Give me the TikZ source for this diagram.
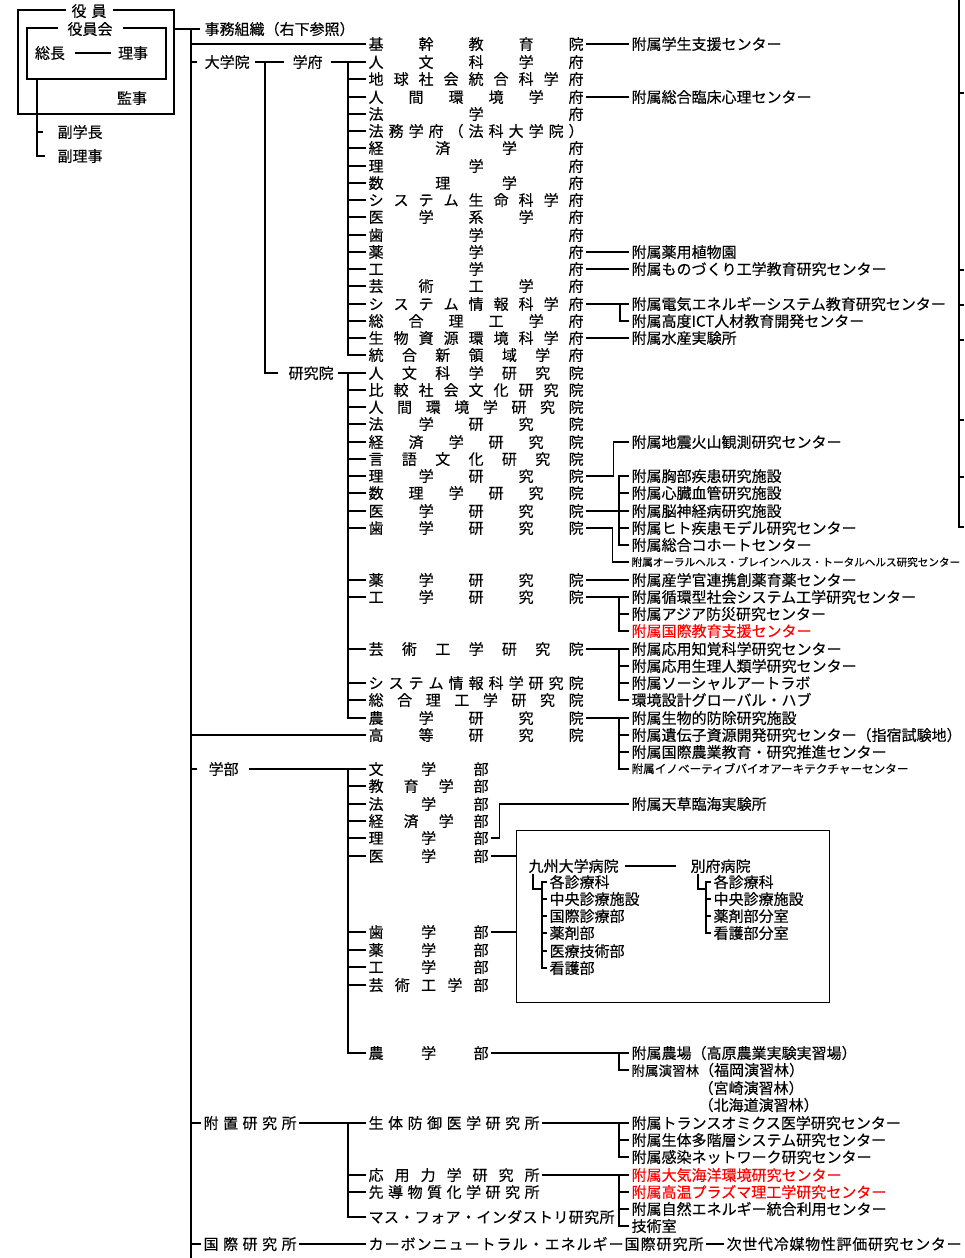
\documentclass[tikz,border=0pt]{standalone}
\usepackage{fontspec}
\setmainfont{Noto Sans CJK JP}[FakeBold=0.3]
\definecolor{orgred}{HTML}{FF0000}
% spread the characters of a label evenly over a given width
\makeatletter
\newcommand\spreadtext[2]{\makebox[#1][s]{\expandafter\spr@ad#2\spr@end}}
\def\spr@end{\spr@end}
\def\spr@ad#1#2\spr@end{#1\ifx\spr@end#2\spr@end\else\hfill\spr@ad#2\spr@end\fi}
\makeatother

\begin{document}
\begin{tikzpicture}[x=1pt, y=-1pt, line width=1.2pt,
  every node/.style={font=\fontsize{15}{17}\selectfont, inner sep=0pt, text height=12.5pt, text depth=1pt},
  row/.style={anchor=west, inner xsep=2pt},
  small/.style={font=\fontsize{10.6}{12.5}\selectfont, text height=9pt, text depth=0.8pt},
  newunit/.style={text=orgred},
  boxlabel/.style={fill=white, inner xsep=6pt}]
\useasboundingbox (0,0) rectangle (964,1258);

% board
\draw (18,10) rectangle (174,114);
\node[boxlabel] (yakuin) at (89,11) {役\hspace{5pt}員};
\draw (27,28) rectangle (166,79);
\node[boxlabel, inner xsep=10pt] (yakuinkai) at (90,29) {役員会};
\node (socho) at (50,53) {総長};
\node (riji) at (133,53) {理事};
\draw ([xshift=9pt]socho.east) -- ([xshift=-6pt]riji.west);
\node (kanji) at (132,98) {監事};
\coordinate (boardbot) at (37,79);
\node[anchor=west] (fukugakucho) at (57,132) {副学長};
\node[anchor=west] (fukuriji) at (57,156) {副理事};
\draw (boardbot) |- ([xshift=-12pt]fukuriji.west);
\draw (boardbot |- fukugakucho.west) -- ++(6,0);

% main spine
\coordinate (boardR) at (174,29);
\coordinate (spine) at (191,29);
\draw (boardR) -- (spine) -- (191,1258);
\node[anchor=west] (jimu) at (204,29) {事務組織（右下参照）};
\draw (spine) -- ([xshift=-4pt]jimu.west);

% graduate schools
\node[row] (kikan) at (366,44) {\spreadtext{215pt}{基幹教育院}};
\draw (spine |- kikan.west) -- (kikan.west);
\node[anchor=west] (daigakuin) at (204,62) {大学院};
\draw (spine |- daigakuin.west) -- ++(6,0);
\node[anchor=west] (gakufu) at (292,62) {学府};
\draw ([xshift=5pt]daigakuin.east) -- ([xshift=-8pt]gakufu.west);
\node[anchor=west] (kenkyuin) at (288,373) {研究院};
\coordinate (dgbus) at (265,62);
\draw (dgbus) |- ([xshift=-10pt]kenkyuin.west);

\foreach \n/\y/\t in {1/62/人文科学府, 2/79/地球社会統合科学府, 3/97/人間環境学府, 4/114/法学府,
    5/131/法務学府（法科大学院）, 6/148/経済学府, 7/166/理学府, 8/183/数理学府,
    9/200/システム生命科学府, 10/217/医学系学府, 11/235/歯学府, 12/252/薬学府,
    13/269/工学府, 14/286/芸術工学府, 15/304/システム情報科学府, 16/321/総合理工学府,
    17/338/生物資源環境科学府, 18/355/統合新領域学府}
  \node[row] (gf\n) at (366,\y) {\spreadtext{215pt}{\t}};
\draw ([xshift=8pt]gakufu.east) -- (gf1.west);
\coordinate (gfbus) at (348,62);
\draw (gfbus) |- (gf18.west);
\foreach \n in {2,...,17}
  \draw (gfbus |- gf\n.west) -- (gf\n.west);

\foreach \n/\y/\t in {1/373/人文科学研究院, 2/390/比較社会文化研究院, 3/407/人間環境学研究院,
    4/424/法学研究院, 5/442/経済学研究院, 6/459/言語文化研究院, 7/476/理学研究院,
    8/493/数理学研究院, 9/511/医学研究院, 10/528/歯学研究院, 11/580/薬学研究院,
    12/597/工学研究院, 13/649/芸術工学研究院, 14/683/システム情報科学研究院,
    15/700/総合理工学研究院, 16/718/農学研究院}
  \node[row] (kk\n) at (366,\y) {\spreadtext{215pt}{\t}};
\draw ([xshift=4pt]kenkyuin.east) -- (kk1.west);
\coordinate (kkbus) at (348,373);
\draw (kkbus) |- (kk16.west);
\foreach \n in {2,...,15}
  \draw (kkbus |- kk\n.west) -- (kk\n.west);
\node[row] (koto) at (366,735) {\spreadtext{215pt}{高等研究院}};
\draw (spine |- koto.west) -- (koto.west);

% attached centres (graduate schools)
\foreach \n/\y/\t in {a1/44/附属学生支援センター, a2/97/附属総合臨床心理センター, a3/252/附属薬用植物園,
    a4/269/附属ものづくり工学教育研究センター, a5/304/附属電気エネルギーシステム教育研究センター,
    a6/321/附属高度ICT人材教育開発センター, a7/338/附属水産実験所,
    b1/442/附属地震火山観測研究センター, b2/476/附属胸部疾患研究施設, b3/493/附属心臓血管研究施設,
    b4/511/附属脳神経病研究施設, b5/528/附属ヒト疾患モデル研究センター, b6/545/附属総合コホートセンター,
    b8/580/附属産学官連携創薬育薬センター, b9/597/附属循環型社会システム工学研究センター,
    b10/614/附属アジア防災研究センター, b12/649/附属応用知覚科学研究センター,
    b13/666/附属応用生理人類学研究センター, b14/683/附属ソーシャルアートラボ,
    b15/700/環境設計グローバル・ハブ, b16/718/附属生物的防除研究施設,
    b17/735/附属遺伝子資源開発研究センター（指宿試験地）, b18/752/附属国際農業教育・研究推進センター}
  \node[row] (\n) at (629,\y) {\t};
\node[row, small] (b7) at (629,562) {附属オーラルヘルス・ブレインヘルス・トータルヘルス研究センター};
\node[row, newunit] (b11) at (629,631) {附属国際教育支援センター};
\node[row, small, font=\fontsize{11.6}{13}\selectfont] (b19) at (629,769) {附属イノベーティブバイオアーキテクチャーセンター};

\draw (kikan.east) -- (a1.west);
\draw (gf3.east) -- (a2.west);
\draw (gf12.east) -- (a3.west);
\draw (gf13.east) -- (a4.west);
\draw (gf15.east) -- (a5.west);
\draw (a5.west) ++(-9,0) |- (a6.west);
\draw (gf17.east) -- (a7.west);
\draw (kk7.east) -- ++(27,0) |- (b1.west);
\draw (kk9.east) -- (b4.west);
\draw (b2.west) -- ++(-10,0) |- (b6.west);
\foreach \n in {b3,b5}
  \draw (\n.west) -- ++(-10,0);
\draw (kk10.east) -- ++(26,0) |- (b7.west);
\draw (kk11.east) -- (b8.west);
\draw (kk12.east) -- (b9.west);
\draw (b9.west) ++(-10,0) |- (b11.west);
\draw (b10.west) -- ++(-10,0);
\draw (kk13.east) -- (b12.west);
\draw (b12.west) ++(-10,0) |- (b15.west);
\foreach \n in {b13,b14}
  \draw (\n.west) -- ++(-10,0);
\draw (kk16.east) -- (b16.west);
\draw (b16.west) ++(-10,0) |- (b19.west);
\foreach \n in {b17,b18}
  \draw (\n.west) -- ++(-10,0);

% faculties
\node[anchor=west] (gakubu) at (208,769) {学部};
\draw (spine |- gakubu.west) -- ++(6,0);
\foreach \n/\y/\t in {1/769/文学部, 2/786/教育学部, 3/804/法学部, 4/821/経済学部, 5/838/理学部,
    6/856/医学部, 7/932/歯学部, 8/950/薬学部, 9/967/工学部, 10/985/芸術工学部, 11/1053/農学部}
  \node[row] (gb\n) at (366,\y) {\spreadtext{120pt}{\t}};
\draw ([xshift=10pt]gakubu.east) -- (gb1.west);
\coordinate (gbbus) at (348,769);
\draw (gbbus) |- (gb11.west);
\foreach \n in {2,...,10}
  \draw (gbbus |- gb\n.west) -- (gb\n.west);

\node[row] (c1) at (629,804) {附属天草臨海実験所};
\draw (gb5.east) -- ++(8,0) |- (c1.west);
\node[row] (c2) at (629,1053) {附属農場（高原農業実験実習場）};
\node[row] (c3) at (629,1070) {{\fontsize{13.5}{15}\selectfont 附属演習林}（福岡演習林）};
\node[anchor=west] (miyazaki) at (698,1088) {（宮崎演習林）};
\node[anchor=west] (hokkaido) at (698,1105) {（北海道演習林）};
\draw (gb11.east) -- (c2.west);
\draw (c2.west) ++(-10,0) |- (c3.west);

% hospitals
\node[draw, anchor=north west, minimum width=313pt, minimum height=172pt] (hosp) at (516,830) {};
\draw (gb6.east) -- (hosp.west |- gb6.east);
\draw (gb7.east) -- (hosp.west |- gb7.east);
\node[anchor=west] (kyudai) at (528,866) {九州大学病院};
\node[anchor=west] (beppu) at (690,866) {別府病院};
\draw ([xshift=6pt]kyudai.east) -- ([xshift=-14pt]beppu.west);
\foreach \n/\y/\t in {k1/882/各診療科, k2/899/中央診療施設, k3/916/国際診療部, k4/933/薬剤部,
    k5/951/医療技術部, k6/968/看護部}
  \node[row] (\n) at (547,\y) {\t};
\coordinate (kyudaiB) at (533,874);
\draw (kyudaiB) |- (542,889);
\draw (k1.west) -- ++(-5,0) |- (k6.west);
\foreach \n in {k2,k3,k4,k5}
  \draw (\n.west) -- ++(-5,0);
\foreach \n/\y/\t in {p1/882/各診療科, p2/899/中央診療施設, p3/916/薬剤部分室, p4/933/看護部分室}
  \node[row] (\n) at (711,\y) {\t};
\coordinate (beppuB) at (698,874);
\draw (beppuB) |- (706,889);
\draw (p1.west) -- ++(-5,0) |- (p4.west);
\foreach \n in {p2,p3}
  \draw (\n.west) -- ++(-5,0);

% research institutes
\node[row] (fuchi) at (201,1123) {\spreadtext{93pt}{附置研究所}};
\draw (spine |- fuchi.west) -- (fuchi.west);
\foreach \n/\y/\w/\t in {1/1123/171pt/生体防御医学研究所, 2/1175/171pt/応用力学研究所,
    3/1192/171pt/先導物質化学研究所, 4/1217/246pt/マス・フォア・インダストリ研究所}
  \node[row] (fk\n) at (366,\y) {\spreadtext{\w}{\t}};
\draw (fuchi.east) -- (fk1.west);
\coordinate (fkbus) at (348,1123);
\draw (fkbus) |- (fk4.west);
\foreach \n in {2,3}
  \draw (fkbus |- fk\n.west) -- (fk\n.west);

\foreach \n/\y/\t in {d1/1123/附属トランスオミクス医学研究センター, d2/1140/附属生体多階層システム研究センター,
    d3/1157/附属感染ネットワーク研究センター, d6/1209/附属自然エネルギー統合利用センター, d7/1226/技術室}
  \node[row] (\n) at (629,\y) {\t};
\node[row, newunit] (d4) at (629,1175) {附属大気海洋環境研究センター};
\node[row, newunit] (d5) at (629,1192) {附属高温プラズマ理工学研究センター};
\draw (fk1.east) -- (d1.west);
\draw (d1.west) ++(-10,0) |- (d3.west);
\draw (d2.west) -- ++(-10,0);
\draw (fk2.east) -- (d4.west);
\draw (d4.west) ++(-10,0) |- (d7.west);
\foreach \n in {d5,d6}
  \draw (\n.west) -- ++(-10,0);

\node[row] (kokusai) at (201,1244) {\spreadtext{93pt}{国際研究所}};
\draw (spine |- kokusai.west) -- (kokusai.west);
\node[row] (carbon) at (366,1244) {\spreadtext{335pt}{カーボンニュートラル・エネルギー国際研究所}};
\node[row] (jisedai) at (724,1244) {\spreadtext{235pt}{次世代冷媒物性評価研究センター}};
\draw (kokusai.east) -- (carbon.west);
\draw (carbon.east) -- (jisedai.west);

% edge of the neighbouring chart
\draw (959,0) -- (959,527) -- (964,527);
\foreach \y in {93,270,305,340,420,477}
  \draw (959,\y) -- (964,\y);
\end{tikzpicture}
\end{document}
